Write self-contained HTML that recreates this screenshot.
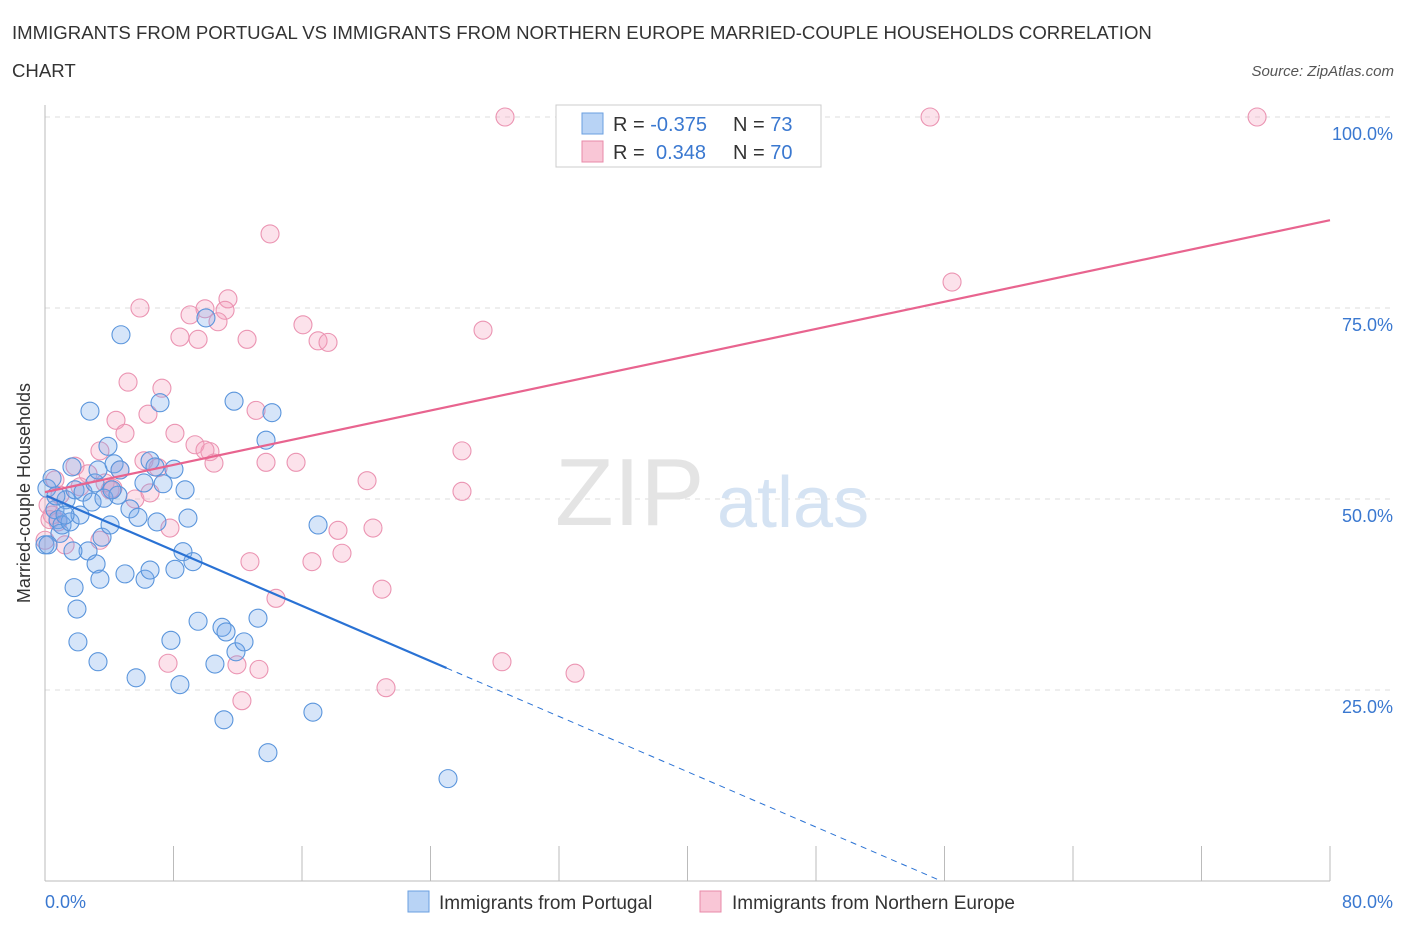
<!DOCTYPE html>
<html><head><meta charset="utf-8">
<style>
body{margin:0;background:#fff;font-family:"Liberation Sans",sans-serif;}
svg text{font-family:"Liberation Sans",sans-serif;}
</style></head>
<body>
<svg id="chart" width="1406" height="930" viewBox="0 0 1406 930" xmlns="http://www.w3.org/2000/svg">
<text x="12" y="39" font-size="18.6" fill="#333">IMMIGRANTS FROM PORTUGAL VS IMMIGRANTS FROM NORTHERN EUROPE MARRIED-COUPLE HOUSEHOLDS CORRELATION</text>
<text x="12" y="77" font-size="18.6" fill="#333">CHART</text>
<text x="1394" y="76" font-size="15" fill="#555" font-style="italic" text-anchor="end">Source: ZipAtlas.com</text>
<g id="grid"></g>
<text x="555" y="525" font-size="96" fill="#e4e4e4" font-family="Liberation Serif">ZIP</text>
<text x="717" y="527" font-size="72" fill="#d5e3f3">atlas</text>
<g id="axes"></g>
<g id="pts"></g>
<g id="lines"></g>
<text x="30" y="493" font-size="18" fill="#333" text-anchor="middle" transform="rotate(-90 30 493)">Married-couple Households</text>
<text x="45" y="908" font-size="18" fill="#3a78d0">0.0%</text>
<text x="1393" y="908" font-size="18" fill="#3a78d0" text-anchor="end">80.0%</text>
<g>
<rect x="556" y="105" width="265" height="62" fill="#fff" stroke="#ccc"/>
<rect x="582" y="113" width="21" height="21" fill="#b8d3f5" stroke="#6a9fe0"/>
<rect x="582" y="141" width="21" height="21" fill="#f9c6d6" stroke="#e88aa8"/>
<text x="613" y="131" font-size="20" fill="#333">R = <tspan fill="#3a78d0">-0.375</tspan></text>
<text x="733" y="131" font-size="20" fill="#333">N = <tspan fill="#3a78d0">73</tspan></text>
<text x="613" y="159" font-size="20" fill="#333">R = <tspan fill="#3a78d0" x="656">0.348</tspan></text>
<text x="733" y="159" font-size="20" fill="#333">N = <tspan fill="#3a78d0">70</tspan></text>
</g>
<g>
<rect x="408" y="891" width="21" height="21" fill="#b8d3f5" stroke="#6a9fe0"/>
<text x="439" y="909" font-size="19" fill="#333">Immigrants from Portugal</text>
<rect x="700" y="891" width="21" height="21" fill="#f9c6d6" stroke="#e88aa8"/>
<text x="732" y="909" font-size="19" fill="#333">Immigrants from Northern Europe</text>
</g>
</svg>
<script>
const yTicks=[25,50,75,100];
const yTickLabels=["25.0%","50.0%","75.0%","100.0%"];
const xTickVals=[0,8,16,24,32,40,48,56,64,72,80];
const portugalPx=[[47,488],[52,478],[55,510],[58,520],[60,533],[62,525],[66,500],[70,522],[72,467],[75,490],[80,515],[83,492],[88,551],[73,551],[74,588],[77,609],[78,642],[96,564],[98,662],[100,579],[102,537],[90,411],[92,502],[95,483],[98,470],[104,498],[108,446],[110,525],[114,464],[118,495],[121,335],[125,574],[130,509],[136,678],[138,517],[144,483],[145,579],[150,570],[150,461],[155,467],[157,522],[160,403],[163,484],[171,640],[174,469],[175,569],[180,685],[183,552],[185,490],[188,518],[193,562],[198,621],[206,318],[215,664],[222,627],[224,720],[226,632],[234,401],[236,652],[244,642],[258,618],[266,440],[268,753],[272,413],[313,712],[318,525],[448,779],[45,545],[48,545],[56,496],[65,515],[112,490],[120,470]];
const northPx=[[505,117],[930,117],[1257,117],[270,234],[952,282],[140,308],[228,299],[225,310],[205,309],[190,315],[218,322],[303,325],[180,337],[198,339],[247,339],[318,341],[328,342],[483,330],[128,382],[162,388],[116,420],[148,414],[125,433],[256,410],[175,433],[195,445],[210,452],[205,450],[100,451],[144,461],[158,468],[214,463],[266,462],[296,462],[462,451],[120,470],[75,466],[88,474],[105,483],[113,488],[110,490],[135,499],[150,493],[367,481],[462,491],[55,480],[60,495],[48,505],[52,515],[58,522],[170,528],[338,530],[373,528],[45,540],[250,562],[312,562],[342,553],[382,589],[276,598],[168,663],[237,665],[259,669],[502,662],[575,673],[386,688],[242,701],[80,487],[65,545],[50,520],[100,540]];
const portugalX=portugalPx.map(p=>+((p[0]-45)/1285*80).toFixed(2));
const portugalY=portugalPx.map(p=>+((881-p[1])/764*100).toFixed(1));
const northX=northPx.map(p=>+((p[0]-45)/1285*80).toFixed(2));
const northY=northPx.map(p=>+((881-p[1])/764*100).toFixed(1));
const trendPortugal=[50.5,-0.905];
const trendNorth=[50.9,0.445];

const NS="http://www.w3.org/2000/svg";
const X=v=>45+v/80*1285;
const Y=v=>881-v/100*764;
function mk(tag,attrs,parent){const e=document.createElementNS(NS,tag);for(const k in attrs)e.setAttribute(k,attrs[k]);parent.appendChild(e);return e;}
const grid=document.getElementById('grid'),axes=document.getElementById('axes'),pts=document.getElementById('pts'),lines=document.getElementById('lines');
yTicks.forEach((t,i)=>{
 const l=mk('line',{x1:45,x2:1395,y1:Y(t),y2:Y(t),stroke:'#ddd','stroke-dasharray':'5,5'},grid);
 
 
 const tx=mk('text',{x:1393,y:Y(t)+23,'font-size':18,fill:'#3a78d0','text-anchor':'end'},grid);
 tx.textContent=yTickLabels[i];
 
 
});
const ya=mk('line',{x1:45,x2:45,y1:105,y2:881,stroke:'#bbb'},axes);


const xa=mk('line',{x1:45,x2:1330,y1:881,y2:881,stroke:'#bbb'},axes);


xTickVals.forEach(v=>{
 const t=mk('line',{x1:X(v),x2:X(v),y1:846,y2:881,stroke:'#bbb'},axes);
 
 
});
function dots(xs,ys,fill,stroke,name){
 xs.forEach((x,i)=>{
  const c=mk('circle',{cx:X(x),cy:Y(ys[i]),r:9,fill:fill,stroke:stroke,'stroke-width':1.1},pts);
  
  
 });
}
dots(northX,northY,'rgba(244,160,188,0.3)','#eb94b2','point-northern-europe');
dots(portugalX,portugalY,'rgba(120,170,235,0.3)','#5a95dc','point-portugal');
const ty=(tr,x)=>tr[0]+tr[1]*x;
const pl=mk('line',{x1:X(0),y1:Y(ty(trendNorth,0)),x2:X(80),y2:Y(ty(trendNorth,80)),stroke:'#e8648f','stroke-width':2.2},lines);


const bl=mk('line',{x1:X(0.1),y1:Y(ty(trendPortugal,0.1)),x2:X(25),y2:Y(ty(trendPortugal,25)),stroke:'#2a72d4','stroke-width':2.2},lines);


const xEnd=-trendPortugal[0]/trendPortugal[1];
const bd=mk('line',{x1:X(25),y1:Y(ty(trendPortugal,25)),x2:X(xEnd),y2:Y(0),stroke:'#2a72d4','stroke-width':1,'stroke-dasharray':'6,5'},lines);


</script>
</body></html>
